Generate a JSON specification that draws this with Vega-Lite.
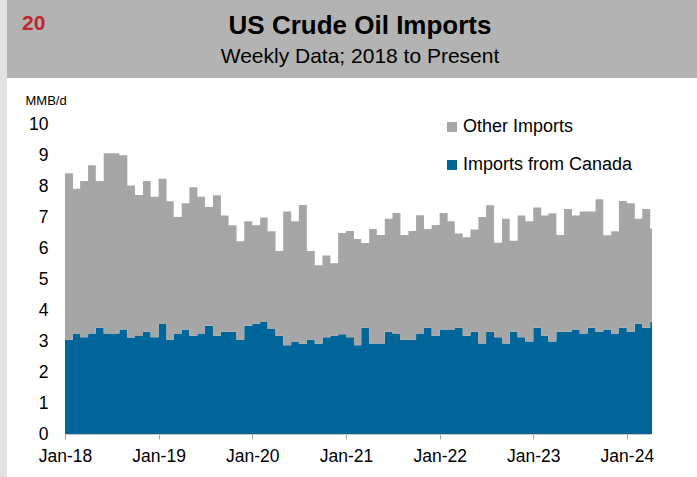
{
  "$schema": "https://vega.github.io/schema/vega-lite/v6.json",
  "padding": 0,
  "background": "#ffffff",
  "spacing": 0,
  "title": {"text": "20", "anchor": "start", "frame": "bounds", "dx": 22, "offset": -34, "fontSize": 21, "fontWeight": "bold", "color": "#c0272d", "font": "Liberation Sans"},
  "config": {"view": {"stroke": null}, "font": "Liberation Sans", "concat": {"spacing": 0}},
  "resolve": {"legend": {"color": "independent"}},
  "hconcat": [
    {"width": 7, "height": 477, "data": {"values": [{}]}, "mark": {"type": "rect", "color": "#e2e2e2"}, "encoding": {}},
    {
      "spacing": 16,
      "resolve": {"legend": {"color": "independent"}},
      "vconcat": [
        {
          "width": 690, "height": 78,
          "data": {"values": [{}]},
          "mark": {"type": "rect", "color": "#b3b3b3"},
          "encoding": {},
          "title": {"text": "US Crude Oil Imports", "subtitle": "Weekly Data; 2018 to Present", "anchor": "middle", "frame": "group", "offset": -67, "dx": 8, "fontSize": 26, "fontWeight": "bold", "color": "#000000", "subtitleFontSize": 21, "subtitleColor": "#000000", "subtitlePadding": 7, "font": "Liberation Sans", "subtitleFont": "Liberation Sans"}
        },
        {
          "width": 645, "height": 310,
          "data": {"values": [
            {"date": "2018-01-01", "Imports from Canada": 3.04, "Other Imports": 5.37},
            {"date": "2018-02-01", "Imports from Canada": 3.24, "Other Imports": 4.67},
            {"date": "2018-03-01", "Imports from Canada": 3.12, "Other Imports": 5.04},
            {"date": "2018-04-01", "Imports from Canada": 3.24, "Other Imports": 5.43},
            {"date": "2018-05-01", "Imports from Canada": 3.43, "Other Imports": 4.73},
            {"date": "2018-06-01", "Imports from Canada": 3.24, "Other Imports": 5.82},
            {"date": "2018-07-01", "Imports from Canada": 3.24, "Other Imports": 5.82},
            {"date": "2018-08-01", "Imports from Canada": 3.37, "Other Imports": 5.62},
            {"date": "2018-09-01", "Imports from Canada": 3.11, "Other Imports": 4.91},
            {"date": "2018-10-01", "Imports from Canada": 3.16, "Other Imports": 4.55},
            {"date": "2018-11-01", "Imports from Canada": 3.30, "Other Imports": 4.86},
            {"date": "2018-12-01", "Imports from Canada": 3.12, "Other Imports": 4.53},
            {"date": "2019-01-01", "Imports from Canada": 3.55, "Other Imports": 4.68},
            {"date": "2019-02-01", "Imports from Canada": 3.04, "Other Imports": 4.47},
            {"date": "2019-03-01", "Imports from Canada": 3.24, "Other Imports": 3.76},
            {"date": "2019-04-01", "Imports from Canada": 3.37, "Other Imports": 4.07},
            {"date": "2019-05-01", "Imports from Canada": 3.17, "Other Imports": 4.79},
            {"date": "2019-06-01", "Imports from Canada": 3.24, "Other Imports": 4.41},
            {"date": "2019-07-01", "Imports from Canada": 3.49, "Other Imports": 3.83},
            {"date": "2019-08-01", "Imports from Canada": 3.17, "Other Imports": 4.53},
            {"date": "2019-09-01", "Imports from Canada": 3.30, "Other Imports": 3.75},
            {"date": "2019-10-01", "Imports from Canada": 3.30, "Other Imports": 3.43},
            {"date": "2019-11-01", "Imports from Canada": 3.04, "Other Imports": 3.18},
            {"date": "2019-12-01", "Imports from Canada": 3.49, "Other Imports": 3.37},
            {"date": "2020-01-01", "Imports from Canada": 3.56, "Other Imports": 3.17},
            {"date": "2020-02-01", "Imports from Canada": 3.61, "Other Imports": 3.37},
            {"date": "2020-03-01", "Imports from Canada": 3.39, "Other Imports": 3.15},
            {"date": "2020-04-01", "Imports from Canada": 3.17, "Other Imports": 2.73},
            {"date": "2020-05-01", "Imports from Canada": 2.86, "Other Imports": 4.32},
            {"date": "2020-06-01", "Imports from Canada": 2.98, "Other Imports": 3.88},
            {"date": "2020-07-01", "Imports from Canada": 2.91, "Other Imports": 4.48},
            {"date": "2020-08-01", "Imports from Canada": 3.04, "Other Imports": 2.86},
            {"date": "2020-09-01", "Imports from Canada": 2.91, "Other Imports": 2.53},
            {"date": "2020-10-01", "Imports from Canada": 3.12, "Other Imports": 2.64},
            {"date": "2020-11-01", "Imports from Canada": 3.17, "Other Imports": 2.34},
            {"date": "2020-12-01", "Imports from Canada": 3.22, "Other Imports": 3.26},
            {"date": "2021-01-01", "Imports from Canada": 3.12, "Other Imports": 3.43},
            {"date": "2021-02-01", "Imports from Canada": 2.86, "Other Imports": 3.43},
            {"date": "2021-03-01", "Imports from Canada": 3.43, "Other Imports": 2.73},
            {"date": "2021-04-01", "Imports from Canada": 2.92, "Other Imports": 3.69},
            {"date": "2021-05-01", "Imports from Canada": 2.92, "Other Imports": 3.50},
            {"date": "2021-06-01", "Imports from Canada": 3.30, "Other Imports": 3.64},
            {"date": "2021-07-01", "Imports from Canada": 3.24, "Other Imports": 3.89},
            {"date": "2021-08-01", "Imports from Canada": 3.04, "Other Imports": 3.38},
            {"date": "2021-09-01", "Imports from Canada": 3.04, "Other Imports": 3.51},
            {"date": "2021-10-01", "Imports from Canada": 3.24, "Other Imports": 3.82},
            {"date": "2021-11-01", "Imports from Canada": 3.43, "Other Imports": 3.18},
            {"date": "2021-12-01", "Imports from Canada": 3.17, "Other Imports": 3.57},
            {"date": "2022-01-01", "Imports from Canada": 3.37, "Other Imports": 3.76},
            {"date": "2022-02-01", "Imports from Canada": 3.37, "Other Imports": 3.49},
            {"date": "2022-03-01", "Imports from Canada": 3.43, "Other Imports": 3.04},
            {"date": "2022-04-01", "Imports from Canada": 3.17, "Other Imports": 3.18},
            {"date": "2022-05-01", "Imports from Canada": 3.30, "Other Imports": 3.30},
            {"date": "2022-06-01", "Imports from Canada": 2.92, "Other Imports": 4.08},
            {"date": "2022-07-01", "Imports from Canada": 3.30, "Other Imports": 4.08},
            {"date": "2022-08-01", "Imports from Canada": 3.12, "Other Imports": 3.05},
            {"date": "2022-09-01", "Imports from Canada": 2.92, "Other Imports": 4.02},
            {"date": "2022-10-01", "Imports from Canada": 3.30, "Other Imports": 2.93},
            {"date": "2022-11-01", "Imports from Canada": 3.12, "Other Imports": 3.93},
            {"date": "2022-12-01", "Imports from Canada": 2.98, "Other Imports": 3.88},
            {"date": "2023-01-01", "Imports from Canada": 3.43, "Other Imports": 3.88},
            {"date": "2023-02-01", "Imports from Canada": 3.17, "Other Imports": 3.88},
            {"date": "2023-03-01", "Imports from Canada": 2.98, "Other Imports": 4.14},
            {"date": "2023-04-01", "Imports from Canada": 3.30, "Other Imports": 3.12},
            {"date": "2023-05-01", "Imports from Canada": 3.30, "Other Imports": 3.96},
            {"date": "2023-06-01", "Imports from Canada": 3.37, "Other Imports": 3.68},
            {"date": "2023-07-01", "Imports from Canada": 3.24, "Other Imports": 3.94},
            {"date": "2023-08-01", "Imports from Canada": 3.43, "Other Imports": 3.75},
            {"date": "2023-09-01", "Imports from Canada": 3.30, "Other Imports": 4.27},
            {"date": "2023-10-01", "Imports from Canada": 3.37, "Other Imports": 3.04},
            {"date": "2023-11-01", "Imports from Canada": 3.24, "Other Imports": 3.30},
            {"date": "2023-12-01", "Imports from Canada": 3.43, "Other Imports": 4.09},
            {"date": "2024-01-01", "Imports from Canada": 3.30, "Other Imports": 4.14},
            {"date": "2024-02-01", "Imports from Canada": 3.56, "Other Imports": 3.38},
            {"date": "2024-03-01", "Imports from Canada": 3.43, "Other Imports": 3.83},
            {"date": "2024-04-01", "Imports from Canada": 3.62, "Other Imports": 3.01},
            {"date": "2024-04-08", "Imports from Canada": 3.62, "Other Imports": 3.01}
          ]},
          "transform": [{"fold": ["Imports from Canada", "Other Imports"], "as": ["series", "value"]}],
          "mark": {"type": "area", "interpolate": "step-after"},
          "encoding": {
            "x": {
              "field": "date", "type": "temporal",
              "scale": {"domain": [{"year": 2018, "month": 1, "date": 1}, {"year": 2024, "month": 4, "date": 8}], "range": [58, 645]},
              "axis": {
                "values": [
                  {"year": 2018, "month": 1, "date": 1}, {"year": 2019, "month": 1, "date": 1},
                  {"year": 2020, "month": 1, "date": 1}, {"year": 2021, "month": 1, "date": 1},
                  {"year": 2022, "month": 1, "date": 1}, {"year": 2023, "month": 1, "date": 1},
                  {"year": 2024, "month": 1, "date": 1}
                ],
                "format": "%b-%y", "title": null, "grid": false,
                "domainColor": "#c8c8c8", "tickColor": "#a0a0a0", "tickSize": 5,
                "labelFontSize": 17.5, "labelColor": "#000000", "labelPadding": 8,
                "labelFlush": false, "labelOverlap": false, "labelBound": false
              }
            },
            "y": {
              "field": "value", "type": "quantitative", "stack": "zero",
              "scale": {"domain": [0, 10]},
              "axis": {
                "values": [0, 1, 2, 3, 4, 5, 6, 7, 8, 9, 10],
                "offset": -58,
                "title": "MMB/d", "titleAngle": 0, "titleAlign": "left", "titleBaseline": "alphabetic",
                "titleX": -40, "titleY": -20, "titleFontSize": 13, "titleFontWeight": "normal", "titleColor": "#000000",
                "grid": false, "domain": false, "ticks": false, "labelPadding": 17,
                "labelFontSize": 17.5, "labelColor": "#000000", "minExtent": 58, "maxExtent": 58
              }
            },
            "color": {
              "field": "series", "type": "nominal",
              "scale": {"domain": ["Other Imports", "Imports from Canada"], "range": ["#a6a6a6", "#006699"]},
              "legend": {
                "title": null, "orient": "none", "legendX": 436, "legendY": -6,
                "symbolType": "square", "symbolSize": 100, "symbolStrokeWidth": 0,
                "labelFontSize": 18, "labelColor": "#000000", "rowPadding": 20, "labelOffset": 2, "padding": 0,
                "labelLimit": 0
              }
            },
            "order": {"field": "series", "sort": "ascending"}
          }
        }
      ]
    }
  ]
}
